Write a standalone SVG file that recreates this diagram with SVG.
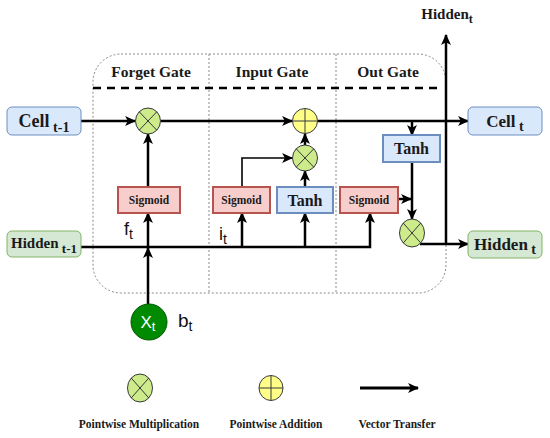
<svg xmlns="http://www.w3.org/2000/svg" width="550" height="438" viewBox="0 0 550 438">
<style>
.serif{font-family:"Liberation Serif","Times New Roman",serif;font-weight:bold;fill:#1a1a1a}
.sans{font-family:"Liberation Sans",Arial,sans-serif}
.ln{fill:none;stroke:#000;stroke-width:2.5}
.thin{fill:none;stroke:#000;stroke-width:1.6}
.arr{marker-end:url(#ah)}
.blue{fill:#dae8fc;stroke:#6c8ebf;stroke-width:1}
.green{fill:#d5e8d4;stroke:#82b366;stroke-width:1}
.sig{fill:#f8cecc;stroke:#b85450;stroke-width:2}
.tanh{fill:#dae8fc;stroke:#6c8ebf;stroke-width:2}
.mul{fill:#cdeb8b;stroke:#36393d;stroke-width:1}
.add{fill:#ffff88;stroke:#36393d;stroke-width:1}
.cross{stroke:#36393d;stroke-width:1;fill:none}
.dot{fill:none;stroke:#888;stroke-width:1;stroke-dasharray:2 2}
</style>
<defs>
<marker id="ah" viewBox="0 0 10 10" refX="9" refY="5" markerWidth="11" markerHeight="11" markerUnits="userSpaceOnUse" orient="auto">
<path d="M0,0.5 L10,5 L0,9.5 L2.5,5 z" fill="#000"/>
</marker>
</defs>
<rect width="550" height="438" fill="#fff"/>

<g id="frame">
<rect class="dot" x="93" y="54" width="353" height="239" rx="28" ry="28"/>
<line class="dot" x1="209" y1="54" x2="209" y2="293"/>
<line class="dot" x1="336" y1="54" x2="336" y2="293"/>
<line x1="93" y1="88" x2="440" y2="88" stroke="#000" stroke-width="2.5" stroke-dasharray="8 6"/>
<text class="serif" x="151" y="77" font-size="15.5" text-anchor="middle">Forget Gate</text>
<text class="serif" x="272" y="77" font-size="15.5" text-anchor="middle">Input Gate</text>
<text class="serif" x="388" y="77" font-size="15.5" text-anchor="middle">Out Gate</text>
</g>

<g id="connectors">
<!-- cell line -->
<line class="ln arr" x1="81" y1="121" x2="135" y2="121"/>
<line class="ln arr" x1="161" y1="121" x2="292" y2="121"/>
<line class="ln arr" x1="318" y1="121" x2="468" y2="121"/>
<!-- X_t up -->
<line class="ln arr" x1="148" y1="304" x2="148" y2="248"/>
<line class="ln arr" x1="148" y1="247" x2="148" y2="213"/>
<line class="ln arr" x1="148" y1="187" x2="148" y2="134"/>
<!-- hidden line -->
<polyline class="ln arr" points="81,247 370,247 370,213"/>
<line class="ln arr" x1="242" y1="247" x2="242" y2="213"/>
<line class="ln arr" x1="305" y1="247" x2="305" y2="213"/>
<!-- input gate -->
<polyline class="thin arr" points="242,187 242,158 292,158"/>
<line class="ln arr" x1="305" y1="187" x2="305" y2="171"/>
<line class="ln arr" x1="305" y1="145" x2="305" y2="134"/>
<!-- out gate -->
<line class="ln arr" x1="412" y1="121" x2="412" y2="135"/>
<line class="ln arr" x1="412" y1="162" x2="412" y2="219"/>
<line class="ln arr" x1="398" y1="199" x2="411" y2="199"/>
<line class="ln arr" x1="420" y1="244" x2="468" y2="244"/>
<line class="ln arr" x1="446" y1="244" x2="446" y2="35"/>
</g>

<g id="cell_prev">
<rect class="blue" x="7" y="107" width="74" height="28" rx="5"/>
<text class="serif" x="44" y="127" font-size="18" text-anchor="middle">Cell<tspan font-size="14" dy="5"> t-1</tspan></text>
</g>
<g id="hidden_prev">
<rect class="green" x="7" y="231" width="74" height="26" rx="5"/>
<text class="serif" x="44" y="248" font-size="15" text-anchor="middle">Hidden<tspan font-size="13" dy="5"> t-1</tspan></text>
</g>
<g id="cell_next">
<rect class="blue" x="468" y="107" width="74" height="28" rx="5"/>
<text class="serif" x="505" y="127" font-size="17" text-anchor="middle">Cell<tspan font-size="14" dy="4"> t</tspan></text>
</g>
<g id="hidden_next">
<rect class="green" x="468" y="231" width="74" height="27" rx="5"/>
<text class="serif" x="505" y="250" font-size="17" text-anchor="middle">Hidden<tspan font-size="14" dy="4"> t</tspan></text>
</g>
<g id="hidden_out_label">
<text class="serif" x="447" y="19" font-size="15" text-anchor="middle">Hidden<tspan font-size="12" dy="4">t</tspan></text>
</g>

<g id="forget_mul">
<ellipse class="mul" cx="148" cy="121" rx="12.5" ry="13"/>
<path class="cross" d="M139.2,111.8 L156.8,130.2 M156.8,111.8 L139.2,130.2"/>
</g>
<g id="forget_sigmoid">
<rect class="sig" x="118" y="187" width="62" height="26"/>
<text class="serif" x="149" y="204" font-size="11.5" text-anchor="middle">Sigmoid</text>
</g>
<g id="input_sigmoid">
<rect class="sig" x="213" y="187" width="57" height="26"/>
<text class="serif" x="241.5" y="204" font-size="11.5" text-anchor="middle">Sigmoid</text>
</g>
<g id="input_tanh">
<rect class="tanh" x="277" y="187" width="56" height="26"/>
<text class="serif" x="305" y="206" font-size="16" text-anchor="middle">Tanh</text>
</g>
<g id="input_mul">
<ellipse class="mul" cx="305" cy="158" rx="12.5" ry="13"/>
<path class="cross" d="M296.2,148.8 L313.8,167.2 M313.8,148.8 L296.2,167.2"/>
</g>
<g id="add">
<ellipse class="add" cx="305" cy="121" rx="12.5" ry="12.5"/>
<path class="cross" d="M305,108.5 V133.5 M292.5,121 H317.5"/>
</g>
<g id="out_tanh">
<rect class="tanh" x="383" y="135" width="57" height="27"/>
<text class="serif" x="411.5" y="154" font-size="16" text-anchor="middle">Tanh</text>
</g>
<g id="out_sigmoid">
<rect class="sig" x="340" y="187" width="58" height="26"/>
<text class="serif" x="369" y="204" font-size="11.5" text-anchor="middle">Sigmoid</text>
</g>
<g id="out_mul">
<ellipse class="mul" cx="412" cy="233" rx="12.5" ry="14"/>
<path class="cross" d="M403.2,223 L420.8,243 M420.8,223 L403.2,243"/>
</g>

<g id="xt">
<circle cx="149" cy="322" r="18" fill="#008a00" stroke="#005700" stroke-width="1"/>
<text class="sans" x="148" y="328" font-size="17" fill="#fff" text-anchor="middle">X<tspan font-size="13" dy="3">t</tspan></text>
</g>
<text class="sans" x="178" y="327" font-size="19" fill="#111">b<tspan font-size="14" dy="4">t</tspan></text>
<text class="sans" x="124" y="235" font-size="18" fill="#111">f<tspan font-size="14" dy="4">t</tspan></text>
<text class="sans" x="219" y="240" font-size="18" fill="#111">i<tspan font-size="14" dy="4">t</tspan></text>

<g id="legend_mul">
<ellipse class="mul" cx="140" cy="388" rx="12.5" ry="14"/>
<path class="cross" d="M131.2,378 L148.8,398 M148.8,378 L131.2,398"/>
<text class="serif" x="139" y="428" font-size="11.5" text-anchor="middle">Pointwise Multiplication</text>
</g>
<g id="legend_add">
<ellipse class="add" cx="271" cy="388" rx="12" ry="12.5"/>
<path class="cross" d="M271,375.5 V400.5 M259,388 H283"/>
<text class="serif" x="276" y="428" font-size="11.5" text-anchor="middle">Pointwise Addition</text>
</g>
<g id="legend_arrow">
<line x1="360" y1="388" x2="418" y2="388" stroke="#000" stroke-width="3" marker-end="url(#ah)"/>
<text class="serif" x="397" y="428" font-size="11.5" text-anchor="middle">Vector Transfer</text>
</g>
</svg>
